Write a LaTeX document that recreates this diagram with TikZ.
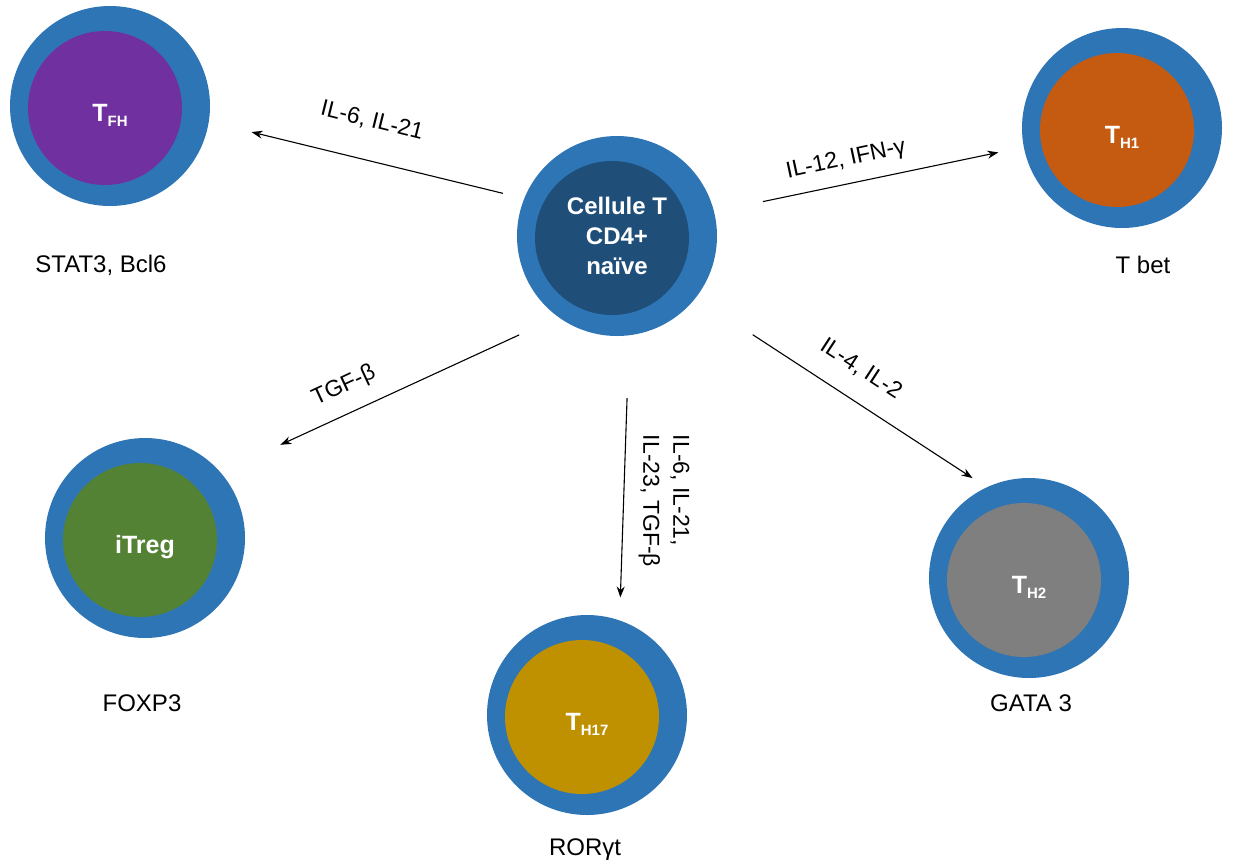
\documentclass[tikz,border=0pt]{standalone}
\usepackage{fontspec}
\setmainfont{Liberation Sans}
\usetikzlibrary{arrows.meta,positioning}
\definecolor{ringblue}{RGB}{46,117,182}
\definecolor{naivecore}{RGB}{31,78,121}
\definecolor{tfhpurple}{RGB}{112,48,160}
\definecolor{thoneorange}{RGB}{197,90,17}
\definecolor{tregreen}{RGB}{84,130,53}
\definecolor{thgold}{RGB}{191,144,0}
\definecolor{thtwogray}{RGB}{127,127,127}
\newcommand{\Tsub}[1]{T\raisebox{-5pt}{\fontsize{15}{15}\bfseries\selectfont #1}}

\begin{document}
\begin{tikzpicture}[x=1pt, y=-1pt, ->, >={Stealth[length=11pt,width=8pt]}, line width=1.1pt]
\tikzstyle{cytokine}=[font=\fontsize{23}{30}\selectfont, inner sep=0pt]
\tikzstyle{factor}=[font=\fontsize{24}{29}\selectfont, inner sep=0pt]
\tikzset{cell/.style={circle, minimum size=200pt, inner sep=0pt, outer sep=0pt,
  fill=ringblue, text=white, font=\fontsize{25}{30}\bfseries\selectfont,
  text height=30pt, text depth=0pt,
  path picture={\fill[#1] ([xshift=-5pt,yshift=-2pt]path picture bounding box.center) circle[radius=77pt];}}}
\useasboundingbox (0,0) rectangle (1234,863);
% cells
\node[cell=naivecore, text height=, text depth=, align=center, font=\fontsize{24}{30}\bfseries\selectfont] (naive) at (617,236) {Cellule T\\CD4+\\naïve};
\node[cell=tfhpurple]   (tfh)   at (110,106)  {\Tsub{FH}};
\node[cell=thoneorange] (th1)   at (1122,128) {\Tsub{H1}};
\node[cell=tregreen]    (itreg) at (145,538)  {iTreg};
\node[cell=thgold]      (th17)  at (587,715)  {\Tsub{H17}};
\node[cell=thtwogray]   (th2)   at (1029,578) {\Tsub{H2}};
% transcription factors
\node[factor] (stat3) at (101,265)  {STAT3, Bcl6};
\node[factor] (tbet)  at (1143,265) {T bet};
\node[factor] (foxp3) at (142,703)  {FOXP3};
\node[factor] (rorgt) at (585,850)  {RORγt};
\node[factor] (gata3) at (1031,703) {GATA 3};
% cytokines
\node[cytokine, rotate=-14] (il6)  at (372,121) {IL-6, IL-21};
\node[cytokine, rotate=12]  (il12) at (846,160) {IL-12, IFN-γ};
\node[cytokine, rotate=25]  (tgfb) at (344,386) {TGF-β};
\node[cytokine, rotate=-33] (il4)  at (861,369) {IL-4, IL-2};
\node[cytokine, rotate=-90, align=left] (il23) at (664,501) {IL-6, IL-21,\\IL-23, TGF-β};
% differentiation
\draw[shorten <=22pt, shorten >=44pt] (naive.158) -- (tfh.351);
\draw[shorten <=50pt, shorten >=26pt] (naive.14)  -- (th1.191);
\draw[shorten <=43pt, shorten >=66pt] (naive.234) -- (itreg.41);
\draw[shorten <=63pt, shorten >=23pt] (naive.277) -- (th17.71);
\draw[shorten <=68pt, shorten >=17pt] (naive.322) -- (th2.115);
\end{tikzpicture}
\end{document}
